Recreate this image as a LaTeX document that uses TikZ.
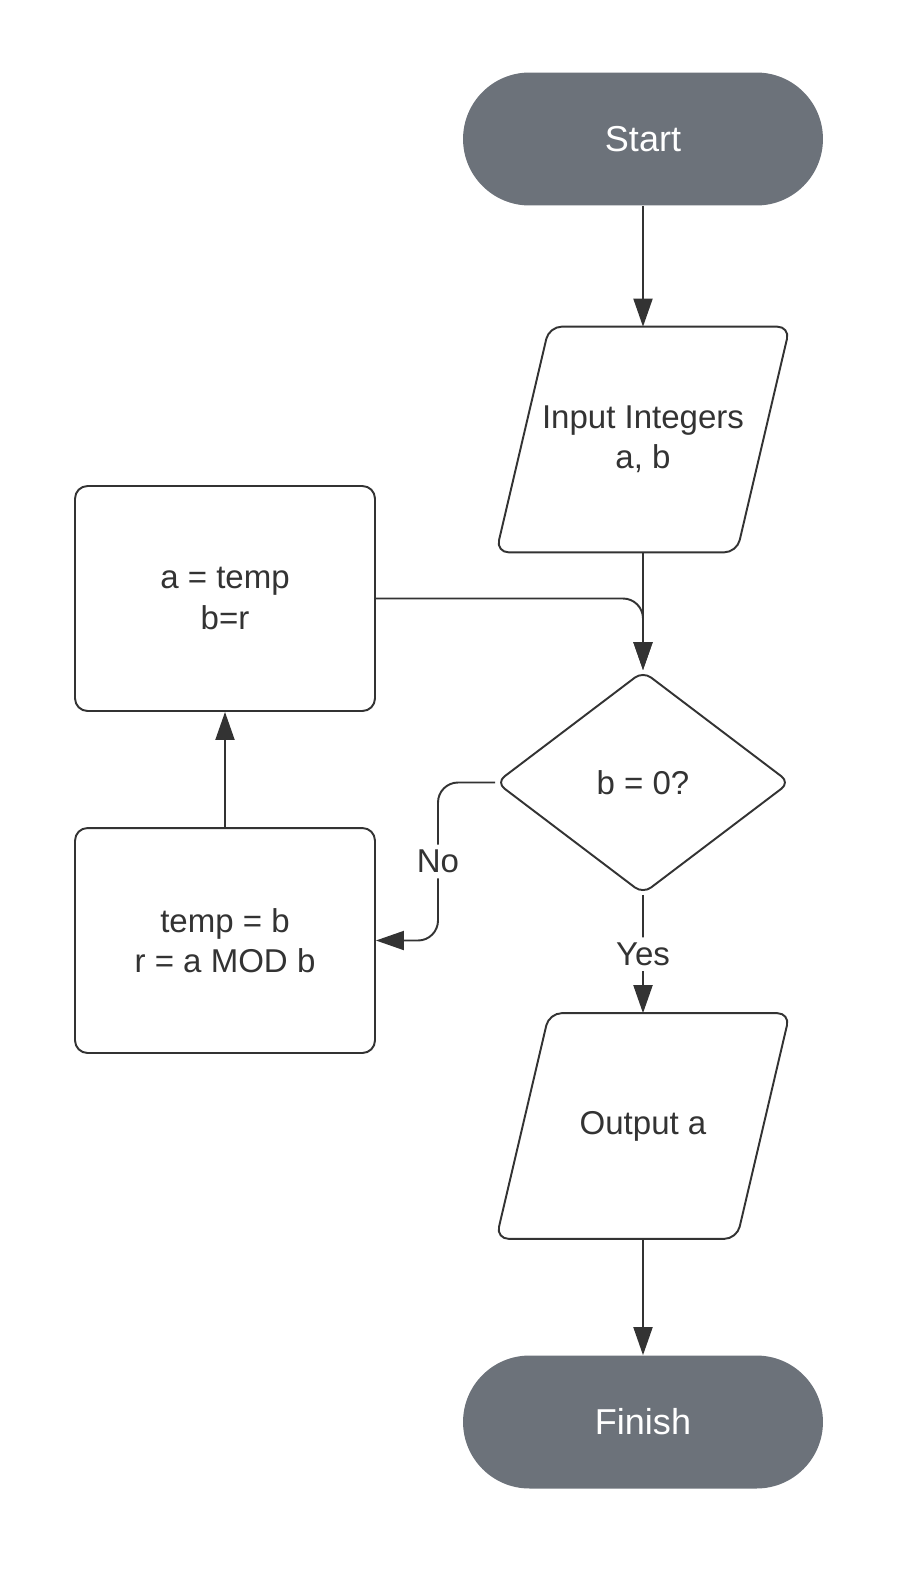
\documentclass[tikz,border=0pt]{standalone}
\usepackage{fontspec}
\setmainfont{Liberation Sans}
\usepackage{tikz}
\usetikzlibrary{positioning}
\usetikzlibrary{arrows.meta}
\usetikzlibrary{shapes.geometric}
\usepackage{xcolor}
\definecolor{termgray}{HTML}{6C727A}
\definecolor{linegray}{HTML}{333333}

\begin{document}
\begin{tikzpicture}[x=0.02cm, y=-0.02cm,
  every node/.style={font=\fontsize{18.8}{22.8}\selectfont, text=linegray, align=center},
  terminal/.style={fill=termgray, rectangle, rounded corners=1.33cm, minimum width=7.2cm,
    minimum height=2.66cm, text=white, font=\fontsize{20.5}{24}\selectfont},
  io/.style={rectangle, minimum width=5.86cm, minimum height=4.5cm},
  ioline/.style={draw=linegray, line width=1.1pt, rounded corners=0.25cm},
  process/.style={draw=linegray, line width=1.1pt, rectangle, rounded corners=0.25cm,
    minimum width=6cm, minimum height=4.5cm},
  decision/.style={draw=linegray, line width=1.1pt, diamond, aspect=1.33,
    minimum width=5.88cm, minimum height=4.46cm, rounded corners=0.2cm},
  flow/.style={draw=linegray, line width=1.1pt, rounded corners=0.4cm,
    -{Triangle[length=0.56cm, width=0.38cm]}},
  lbl/.style={fill=white, inner sep=3pt}]
  \useasboundingbox (0,0) rectangle (898,1569);

  \node[terminal] (start) at (643,139) {Start};
  \node[io] (input) at (643,439.5) {Input Integers\\a, b};
  \node[decision] (test) at (643,782.5) {b = 0?};
  \node[process] (swap) at (225,598.5) {a = temp\\b=r};
  \node[process] (mod) at (225,940.5) {temp = b\\r = a MOD b};
  \node[io] (output) at (643,1126) {Output a};
  \node[terminal] (finish) at (643,1422) {Finish};
  \coordinate (bend) at (438,782.5);

  % slanted sides of the input/output boxes
  \foreach \n in {input,output}
    \draw[ioline] ([xshift=1.06cm]\n.north west) -- (\n.north east)
      -- ([xshift=-1.06cm]\n.south east) -- (\n.south west) -- cycle;

  \draw[flow] (start) -- (input);
  \draw[flow] (input) -- (test);
  \draw[flow] (swap.east) -| (test.north);
  \draw[flow] (mod) -- (swap);
  \draw[flow] (test.west) -- (bend) |- node[lbl, pos=0.25] {No} (mod.east);
  \draw[flow] (test) -- node[lbl] {Yes} (output);
  \draw[flow] (output) -- (finish);
\end{tikzpicture}
\end{document}
